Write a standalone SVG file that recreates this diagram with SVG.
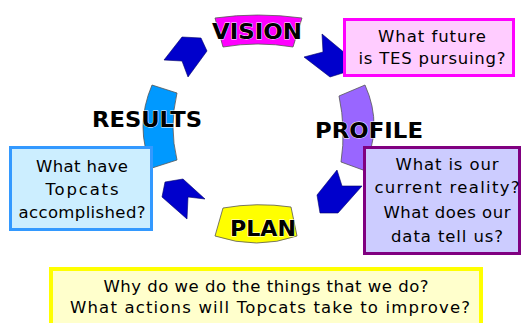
<svg xmlns="http://www.w3.org/2000/svg" width="522" height="323" viewBox="0 0 522 323">
<style>
.arrow{fill:#0000CC;stroke:#000066;stroke-width:0.6;stroke-linejoin:round}
.band{stroke:#555;stroke-width:0.8}
.lbl{font-family:"DejaVu Sans",sans-serif;font-weight:bold;font-size:22px;fill:#000;stroke:#fff;stroke-width:0.8;paint-order:stroke;text-anchor:middle}
.q{font-family:"DejaVu Sans",sans-serif;font-size:16.5px;fill:#000;text-anchor:middle}
</style>
<rect width="522" height="323" fill="#fff"/>
<g id="connectors">
<polygon class="arrow" points="164,60 182,37 201,38 207,51 188,77 182,61"/>
<polygon class="arrow" points="322,34 346,54 346,72 330,77 304,57 323,52"/>
<polygon class="arrow" points="337,170 342,186 362,186 338,213 320,213 317,195"/>
<polygon class="arrow" points="165,182 183,179 205,199 188,197 187,219 162,197"/>
</g>
<g id="vision">
<path class="band" fill="#FF00FF" d="M215,18 Q258,12 302,18 L293,47 Q258,41 223,47 Z"/>
<text class="lbl" x="257" y="39" textLength="90" lengthAdjust="spacingAndGlyphs">VISION</text>
</g>
<g id="profile">
<path class="band" fill="#9966FF" d="M339,96 L365,85 Q384,127 363,170 L341,162 Q346,129 339,96 Z"/>
<text class="lbl" x="369" y="138" textLength="108" lengthAdjust="spacingAndGlyphs">PROFILE</text>
</g>
<g id="results">
<path class="band" fill="#0099FF" d="M152,85 L177,93 Q169,127 177,160 L152,168 Q134,127 152,85 Z"/>
<text class="lbl" x="147" y="127" textLength="110" lengthAdjust="spacingAndGlyphs">RESULTS</text>
</g>
<g id="plan">
<path class="band" fill="#FFFF00" d="M223,208 Q257,202 291,207 L297,236 Q257,250 215,236 Z"/>
<text class="lbl" x="263" y="236" textLength="66" lengthAdjust="spacingAndGlyphs">PLAN</text>
</g>
<g id="vision-question">
<rect x="344.5" y="19.5" width="169" height="56" fill="#FFCCFF" stroke="#FF00FF" stroke-width="3"/>
<text class="q" x="432" y="42" textLength="108">What future</text>
<text class="q" x="432" y="64" textLength="147">is TES pursuing?</text>
</g>
<g id="profile-question">
<rect x="364.5" y="147.5" width="155" height="106" fill="#CCCCFF" stroke="#800080" stroke-width="3"/>
<text class="q" x="447" y="170" textLength="103">What is our</text>
<text class="q" x="447" y="193" textLength="145">current reality?</text>
<text class="q" x="447" y="218" textLength="127">What does our</text>
<text class="q" x="447" y="242" textLength="112">data tell us?</text>
</g>
<g id="results-question">
<rect x="10.5" y="147.5" width="141" height="82" fill="#CCEEFF" stroke="#3399FF" stroke-width="3"/>
<text class="q" x="82" y="172" textLength="92">What have</text>
<text class="q" x="82" y="195" textLength="73">Topcats</text>
<text class="q" x="82" y="218" textLength="127">accomplished?</text>
</g>
<g id="plan-question">
<rect x="51" y="269" width="430" height="60" fill="#FFFFCC" stroke="#FFFF00" stroke-width="4"/>
<text class="q" x="266" y="292" textLength="325">Why do we do the things that we do?</text>
<text class="q" x="270" y="313" textLength="400">What actions will Topcats take to improve?</text>
</g>
</svg>
